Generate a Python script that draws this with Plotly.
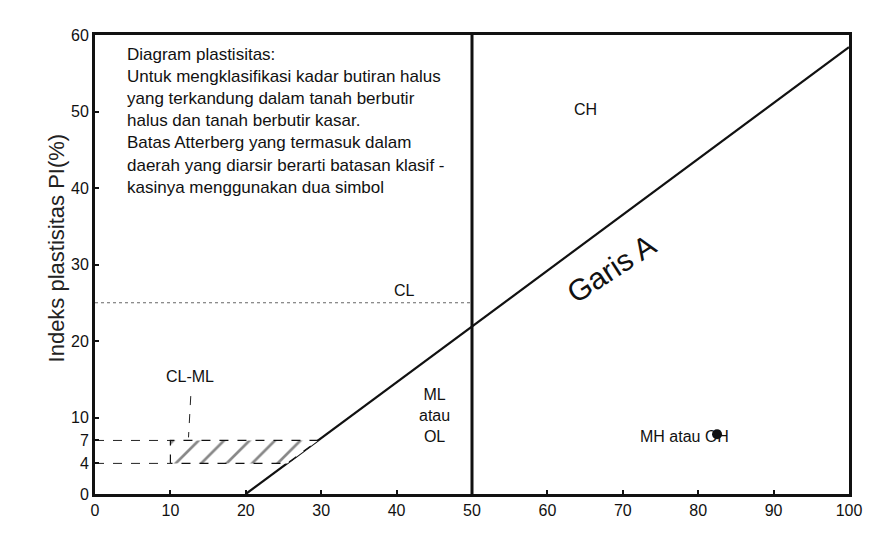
import plotly.graph_objects as go

# Plasticity chart (Casagrande): liquid limit LL (%) vs plasticity index PI (%)
ll_ticks = [0, 10, 20, 30, 40, 50, 60, 70, 80, 90, 100]
pi_ticks = [0, 4, 7, 10, 20, 30, 40, 50, 60]

# A-line endpoints
a_line_ll = [20, 100]
a_line_pi = [0, 58.4]

# LL = 50 boundary between low and high plasticity
ll_boundary = 50

# CL-ML double-symbol band
cl_ml_ll = [10, 10, 29.6, 25.5, 10]
cl_ml_pi = [4, 7, 7, 4, 4]
band_low, band_high = 4, 7
band_start = 10

# dotted guide level
guide_pi = 25

# plotted soil sample
sample_ll = [82.5]
sample_pi = [7.8]

FONT = "Liberation Sans, Arial, sans-serif"

fig = go.Figure()

# A-line
fig.add_trace(go.Scatter(x=a_line_ll, y=a_line_pi, mode="lines",
                         line=dict(color="#111", width=2.2),
                         hoverinfo="skip", showlegend=False))

# LL = 50 vertical divider
fig.add_trace(go.Scatter(x=[ll_boundary, ll_boundary], y=[0, 60], mode="lines",
                         line=dict(color="#111", width=3),
                         hoverinfo="skip", showlegend=False))

# dotted guide
fig.add_trace(go.Scatter(x=[0, ll_boundary], y=[guide_pi, guide_pi], mode="lines",
                         line=dict(color="#666", width=1, dash="dot"),
                         hoverinfo="skip", showlegend=False))

# dashed leaders at PI = 4 and 7
for lvl in (band_low, band_high):
    fig.add_trace(go.Scatter(x=[0, band_start], y=[lvl, lvl], mode="lines",
                             line=dict(color="#222", width=1, dash="dash"),
                             hoverinfo="skip", showlegend=False))

# hatched CL-ML band
fig.add_trace(go.Scatter(x=cl_ml_ll, y=cl_ml_pi, mode="lines", fill="toself",
                         fillcolor="white",
                         fillpattern=dict(shape="/", fgcolor="#111", bgcolor="white",
                                          size=18, solidity=0.15),
                         line=dict(color="#111", width=1.2, dash="dash"),
                         hoverinfo="skip", showlegend=False))

# CL-ML pointer
fig.add_trace(go.Scatter(x=[12.7, 12.4], y=[12.8, 7.4], mode="lines",
                         line=dict(color="#222", width=1, dash="dash"),
                         hoverinfo="skip", showlegend=False))

# sample point
fig.add_trace(go.Scatter(x=sample_ll, y=sample_pi, mode="markers",
                         marker=dict(color="#111", size=10),
                         hoverinfo="skip", showlegend=False))

ann = []
ann.append(dict(x=4.0, y=59.0, xref="x", yref="y", xanchor="left", yanchor="top",
                align="left", showarrow=False,
                font=dict(family=FONT, size=17, color="#111"),
                text=("Diagram plastisitas:<br>"
                      "Untuk mengklasifikasi kadar butiran halus<br>"
                      "yang terkandung dalam tanah berbutir<br>"
                      "halus dan tanah berbutir kasar.<br>"
                      "Batas Atterberg yang termasuk dalam<br>"
                      "daerah yang diarsir berarti batasan klasif -<br>"
                      "kasinya menggunakan dua simbol")))
labels = [
    ("CH", 65, 50.3),
    ("CL", 41.1, 26.6),
    ("ML<br>atau<br>OL", 45, 10.25),
    ("MH atau OH", 78.2, 7.5),
    ("CL-ML", 12.6, 15.3),
]
for txt, x, y in labels:
    ann.append(dict(x=x, y=y, xref="x", yref="y", text=txt, showarrow=False,
                    font=dict(family=FONT, size=16, color="#111")))
ann.append(dict(x=68.5, y=29.5, xref="x", yref="y", text="Garis A", showarrow=False,
                textangle=-33, font=dict(family=FONT, size=30, color="#111")))
ann.append(dict(x=-0.069, y=0.536, xref="paper", yref="paper",
                text="Indeks plastisitas PI(%)", showarrow=False, textangle=-90,
                font=dict(family=FONT, size=22, color="#222")))

axis_common = dict(showline=True, linecolor="#111", linewidth=3, mirror=True,
                   showgrid=False, zeroline=False, ticks="inside", ticklen=4,
                   tickwidth=1.5, tickcolor="#111",
                   tickfont=dict(family=FONT, size=16, color="#111"))

fig.update_layout(
    width=874, height=539,
    margin=dict(l=95, r=14, t=35, b=45),
    paper_bgcolor="white", plot_bgcolor="white",
    xaxis=dict(range=[0, 100], tickvals=ll_ticks, **axis_common),
    yaxis=dict(range=[0, 60], tickvals=pi_ticks, **axis_common),
    annotations=ann,
    showlegend=False,
)

fig.write_html("out.html")
